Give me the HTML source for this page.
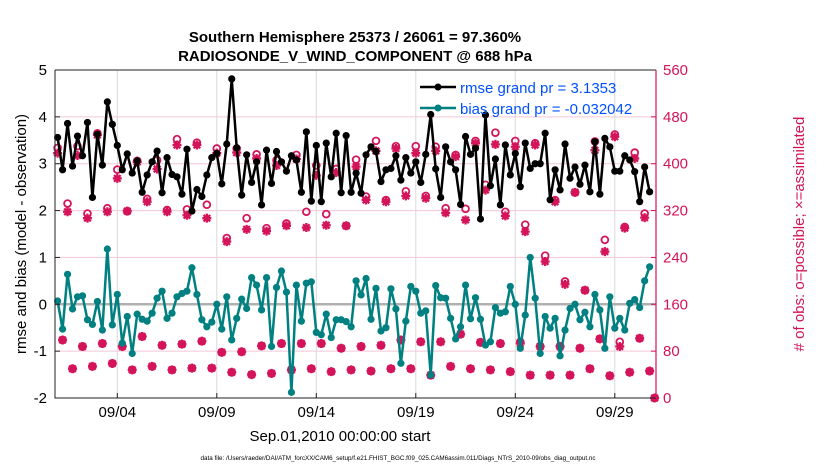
<!DOCTYPE html>
<html><head><meta charset="utf-8"><style>
body{margin:0;background:#fff;}
svg{display:block;font-family:"Liberation Sans",Arial,sans-serif;}
</style></head><body>
<svg id="chart" width="830" height="470" viewBox="0 0 830 470">
<rect x="0" y="0" width="830" height="470" fill="#fff"/>
<g id="grid"></g><g id="marks"></g><g id="axes"></g>
<text x="355" y="42" text-anchor="middle" font-size="15" font-weight="bold">Southern Hemisphere 25373 / 26061 = 97.360%</text>
<text x="355" y="61" text-anchor="middle" font-size="15" font-weight="bold">RADIOSONDE_V_WIND_COMPONENT @ 688 hPa</text>
<text transform="translate(26,234) rotate(-90)" text-anchor="middle" font-size="15">rmse and bias (model - observation)</text>
<text transform="translate(804,234) rotate(-90)" text-anchor="middle" font-size="15" fill="#d4145a"># of obs: o=possible; ×=assimilated</text>
<text x="340" y="441" text-anchor="middle" font-size="15">Sep.01,2010 00:00:00 start</text>
<text x="398" y="460" text-anchor="middle" font-size="6.3">data file: /Users/raeder/DAI/ATM_forcXX/CAM6_setup/f.e21.FHIST_BGC.f09_025.CAM6assim.011/Diags_NTrS_2010-09/obs_diag_output.nc</text>
<g>
<line x1="420" y1="87" x2="456" y2="87" stroke="#000" stroke-width="2.5"/><circle cx="438" cy="87" r="3.5" fill="#000"/>
<text x="460" y="93" font-size="15" fill="#0050ff">rmse grand pr = 3.1353</text>
<line x1="420" y1="108" x2="456" y2="108" stroke="#008080" stroke-width="2.5"/><circle cx="438" cy="108" r="3.5" fill="#008080"/>
<text x="460" y="114" font-size="15" fill="#0050ff">bias grand pr = -0.032042</text>
</g>
</svg>
<script>
const rmse=[3.56,2.87,3.86,2.95,3.59,3.17,3.88,2.28,3.63,2.97,4.32,3.84,3.39,2.87,3.21,2.80,3.06,2.39,2.76,3.04,3.27,2.38,3.13,2.77,2.72,2.35,3.31,1.99,2.45,2.30,
2.76,3.13,3.22,2.57,3.42,4.81,3.34,2.33,3.19,2.60,3.04,2.12,3.29,2.58,3.26,3.04,2.84,3.17,3.08,2.39,3.68,2.20,3.39,2.19,3.44,2.72,3.65,2.38,3.60,2.39,
2.80,2.37,3.19,3.36,3.26,2.62,2.87,2.90,3.17,2.65,3.13,2.80,3.04,2.60,3.20,4.05,2.89,2.28,3.36,3.04,2.87,2.13,3.58,3.20,3.33,1.82,4.04,2.53,3.10,2.12,
3.40,2.76,3.22,2.51,3.44,2.90,3.00,3.00,3.65,2.23,2.87,2.44,3.42,2.69,2.93,2.56,2.97,2.40,3.47,2.35,3.54,3.36,2.84,2.84,3.17,3.08,2.83,2.19,2.93,2.40];
const bias=[0.07,-0.53,0.64,-0.10,0.16,0.18,-0.33,-0.43,0.06,-0.55,1.18,-0.44,0.21,-0.83,-0.26,-1.05,-0.21,-0.32,-0.36,-0.19,0.13,0.28,-0.30,-0.19,0.16,0.23,0.28,0.78,0.21,-0.33,
-0.48,-0.38,0,-0.53,0.16,-0.76,-0.30,0.11,-0.09,0.57,0.41,-0.12,0.57,-0.90,0.36,0.71,0.26,-1.88,0.41,-0.36,0.45,0.48,-0.60,-0.65,-0.21,-0.71,-0.33,-0.33,-0.37,-0.48,
0.50,0.20,0.55,-0.32,0.34,-0.57,-0.50,0.33,-0.10,-1.26,-0.36,0.38,0.28,-0.19,-0.14,-1.51,0.40,0.14,0.13,-0.30,-0.74,-0.48,0.41,-0.31,0.14,-0.32,-0.87,-0.80,-0.07,-0.19,
-0.16,0.38,0,-0.94,-0.23,1.00,0.13,-1.05,-0.26,-0.51,-0.30,-1.10,-0.55,-0.09,0,-0.33,-0.17,-0.48,0.21,-0.12,-0.94,0.16,-0.51,-0.30,-0.55,0.02,0.10,-0.07,0.50,0.80];
const nUsed=[418,99,318,50,414,88,307,54,449,93,318,59,375,88,319,48,403,105,335,54,391,90,318,48,432,92,312,51,432,97,
307,51,418,78,267,44,419,79,288,40,409,89,285,42,397,93,294,48,408,93,291,50,380,93,295,45,385,85,294,48,
395,88,338,46,422,90,335,50,426,99,345,50,418,96,341,39,422,96,316,54,412,109,304,50,435,95,355,48,433,93,
311,45,429,93,284,39,432,88,233,39,335,88,194,39,351,85,184,50,423,101,250,38,446,88,290,44,409,102,308,46,0];
const nPoss=[427,99,332,50,430,88,315,54,452,93,324,59,390,88,319,48,405,105,340,54,406,90,321,48,442,92,322,51,436,97,
330,51,426,78,273,44,426,79,307,40,416,89,290,42,406,93,298,48,415,93,318,50,397,93,314,45,391,85,294,48,
407,88,344,46,439,90,338,50,430,99,353,50,430,96,345,39,429,96,324,54,415,109,323,50,439,95,364,48,453,93,
318,45,439,96,296,39,435,88,243,39,338,88,199,39,351,85,184,50,438,101,270,38,450,96,292,44,419,102,315,46,0];
const leftTicks=[-2,-1,0,1,2,3,4,5];
const rightTicks=[0,80,160,240,320,400,480,560];
const dateTicks=[3,8,13,18,23,28];
const dateLabels=['09/04','09/09','09/14','09/19','09/24','09/29'];
const stepDays=0.25;

const X0=55,X1=656,Y0=70,Y1=398;
const xs=t=>57.6+19.9*t;
const yl=v=>Y1-(v+2)/7*(Y1-Y0);
const yr=v=>Y1-v/560*(Y1-Y0);
const NS='http://www.w3.org/2000/svg';
function mk(tag,attrs,parent){const e=document.createElementNS(NS,tag);for(const k in attrs)e.setAttribute(k,attrs[k]);parent.appendChild(e);return e;}
const grid=document.getElementById('grid'),marks=document.getElementById('marks'),axes=document.getElementById('axes');
const PINK='#d4145a';
leftTicks.forEach(v=>{
 if(v!==0&&v!==-2&&v!==5){const l=mk('line',{x1:X0,x2:X1,y1:yl(v),y2:yl(v),stroke:'#f3c6d6','stroke-width':1},grid);
 
 }
 const t=mk('text',{x:X0-8,y:yl(v)+5,'text-anchor':'end','font-size':15},axes);t.textContent=v;
 
 
 mk('line',{x1:X0,x2:X0+5,y1:yl(v),y2:yl(v),stroke:'#222'},axes);
});
rightTicks.forEach(v=>{
 const t=mk('text',{x:X1+7,y:yr(v)+5,'font-size':15,fill:PINK},axes);t.textContent=v;
 
 
 mk('line',{x1:X1-5,x2:X1,y1:yr(v),y2:yr(v),stroke:PINK},axes);
});
dateTicks.forEach((d,i)=>{
 const x=xs(d);
 const g=mk('line',{x1:x,x2:x,y1:Y0,y2:Y1,stroke:'#d8d8d8'},grid);
 
 
 mk('line',{x1:x,x2:x,y1:Y1,y2:Y1-5,stroke:'#222'},axes);
 const t=mk('text',{x:x,y:Y1+19,'text-anchor':'middle','font-size':15},axes);t.textContent=dateLabels[i];
 
 
});
const z=mk('line',{x1:X0,x2:X1,y1:yl(0),y2:yl(0),stroke:'#b0b0b0','stroke-width':2.5},grid);


nPoss.forEach((v,i)=>{const c=mk('circle',{cx:xs(i*stepDays),cy:yr(v),r:3.4,fill:'none',stroke:PINK,'stroke-width':1.8},marks);
 
 });
nUsed.forEach((v,i)=>{const x=xs(i*stepDays),y=yr(v);
 const p=mk('path',{d:`M${x-4.5},${y}H${x+4.5}M${x},${y-4.5}V${y+4.5}M${x-3.3},${y-3.3}L${x+3.3},${y+3.3}M${x-3.3},${y+3.3}L${x+3.3},${y-3.3}`,stroke:PINK,'stroke-width':2.3},marks);
 
 });
function series(arr,color,name){
 const pts=arr.map((v,i)=>xs(i*stepDays)+','+yl(v)).join(' ');
 const pl=mk('polyline',{points:pts,fill:'none',stroke:color,'stroke-width':2.5,'stroke-linejoin':'round'},marks);
 
 
 arr.forEach((v,i)=>{const c=mk('circle',{cx:xs(i*stepDays),cy:yl(v),r:3.6,fill:color},marks);
  
  });
}
series(rmse,'#000','rmse');
series(bias,'#008080','bias');
const fr=mk('path',{d:`M${X0},${Y0}H${X1}M${X0},${Y0}V${Y1}H${X1}`,fill:'none',stroke:'#222','stroke-width':1},axes);


const ra=mk('line',{x1:X1,x2:X1,y1:Y0,y2:Y1,stroke:PINK,'stroke-width':1.2},axes);


</script>
</body></html>
